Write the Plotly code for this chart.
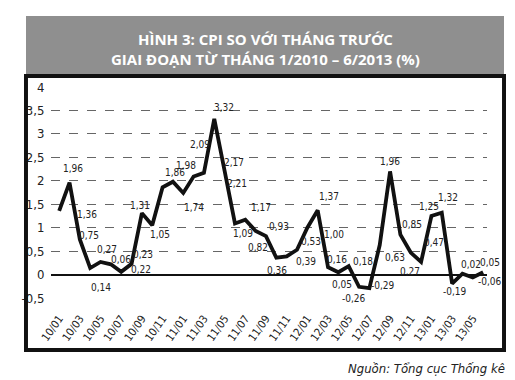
import plotly.graph_objects as go

# ---- data ----
months = ["10/01","10/02","10/03","10/04","10/05","10/06","10/07","10/08","10/09","10/10","10/11","10/12",
          "11/01","11/02","11/03","11/04","11/05","11/06","11/07","11/08","11/09","11/10","11/11","11/12",
          "12/01","12/02","12/03","12/04","12/05","12/06","12/07","12/08","12/09","12/10","12/11","12/12",
          "13/01","13/02","13/03","13/04","13/05","13/06"]
cpi = [1.36, 1.96, 0.75, 0.14, 0.27, 0.22, 0.06, 0.23, 1.31, 1.05, 1.86, 1.98,
       1.74, 2.09, 2.17, 3.32, 2.21, 1.09, 1.17, 0.93, 0.82, 0.36, 0.39, 0.53,
       1.00, 1.37, 0.16, 0.05, 0.18, -0.26, -0.29, 0.63, 2.20, 0.85, 0.47, 0.27,
       1.25, 1.32, -0.19, 0.02, -0.06, 0.05]
# label texts as printed in the original figure
point_labels = ["1,36","1,96","0,75","0,14","0,27","0,22","0,06","0,23","1,31","1,05","1,86","1,98",
                "1,74","2,09","2,17","3,32","2,21","1,09","1,17","0,93","0,82","0,36","0,39","0,53",
                "1,00","1,37","0,16","0,05","0,18","-0,26","-0,29","0,63","1,96","0,85","0,47","0,27",
                "1,25","1,32","-0,19","0,02","-0,06","0,05"]
# label offsets in pixels (dx right, dy down) — styling only
label_dx = [28, 3, 9, 11, 6, 30, 0, 11, -2, 8, 12, 13,
            11, 6, 30, 10, 12, 8, 16, 23, -8, 1, 19, 14,
            27, 11, 9, 4, 14, -5, 14, 15, 0, 12, 23, -11,
            -2, 6, 3, 9, 17, 7]
label_dy = [4, -14, -4, 19, -12, 5, -12, -9, -8, 9, -15, -16,
            15, -32, -10, -11, 13, 10, -12, -4, 11, 13, 5, -8,
            7, -14, -8, 12, -5, 12, -3, 12, -10, -10, -10, 10,
            -9, -15, 8, -9, 4, -10]
tick_idx = list(range(0, 42, 2))
tick_text = [months[i] for i in tick_idx]
y_ticks = [-0.5, 0, 0.5, 1, 1.5, 2, 2.5, 3, 3.5, 4]
y_tick_text = ["-0,5", "0", "0,5", "1", "1,5", "2", "2,5", "3", "3,5", "4"]

title_text = "HÌNH 3: CPI SO VỚI THÁNG TRƯỚC<br>GIAI ĐOẠN TỪ THÁNG 1/2010 – 6/2013 (%)"
source_text = "Nguồn: Tổng cục Thống kê"

NARROW = "Liberation Sans Narrow, DejaVu Sans Condensed, Roboto, sans-serif"

# page body has an 8px margin: the figure is drawn 8px in from the window corner
OFF = 8
W, H = 515 - OFF, 380 - OFF
# paper area = the framed box (window px 14..504 x 76..350)
BX0, BX1, BY0, BY1 = 14, 504, 76, 350
ML, MR, MT, MB = BX0 - OFF, W - (BX1 - OFF), BY0 - OFF, H - (BY1 - OFF)

def px(x):  # window pixel -> paper
    return (x - BX0) / (BX1 - BX0)

def py(y):
    return (BY1 - y) / (BY1 - BY0)

x_idx = list(range(len(months)))

fig = go.Figure()
fig.add_trace(go.Scatter(x=x_idx, y=cpi, mode="lines",
                         line=dict(color="#111111", width=3.8),
                         hoverinfo="skip", showlegend=False))
# empty trace that carries the frame axes
fig.add_trace(go.Scatter(x=[], y=[], xaxis="x2", yaxis="y2", mode="lines",
                         hoverinfo="skip", showlegend=False))

for i, (v, t) in enumerate(zip(cpi, point_labels)):
    fig.add_annotation(x=i, y=v, text=t, showarrow=False,
                       xshift=label_dx[i], yshift=-label_dy[i],
                       font=dict(family=NARROW, size=10, color="#222222"))

# banner
fig.add_shape(type="rect", xref="paper", yref="paper",
              x0=px(14), x1=px(504), y0=py(74), y1=py(16),
              fillcolor="#8f8f8f", line=dict(width=0), layer="below")
# frame
fig.add_shape(type="rect", xref="paper", yref="paper",
              x0=px(15), x1=px(503), y0=py(349), y1=py(77),
              line=dict(color="#111111", width=2), layer="above")

fig.add_annotation(xref="paper", yref="paper", x=px(260), y=py(49),
                   text="<b>" + title_text + "</b>", showarrow=False,
                   font=dict(family="Open Sans", size=15, color="white"),
                   xanchor="center", yanchor="middle", align="center")
fig.add_annotation(xref="paper", yref="paper", x=px(507), y=py(368),
                   text="<i>" + source_text + "</i>", showarrow=False,
                   font=dict(family=NARROW, size=13, color="#222222"),
                   xanchor="right", yanchor="middle")

fig.update_layout(
    xaxis=dict(domain=[px(40), px(487)], range=[-0.755, 41.415],
               tickvals=tick_idx, ticktext=tick_text, tickangle=-55,
               showgrid=False, zeroline=False, showline=False, ticks="",
               ticklabelstandoff=10, anchor="y",
               tickfont=dict(family=NARROW, size=11, color="#222222")),
    yaxis=dict(domain=[py(299), py(86)], range=[-0.52, 4.02],
               tickvals=y_ticks, ticktext=y_tick_text,
               showgrid=True, gridcolor="#666666", griddash="dash", gridwidth=1,
               zeroline=True, zerolinecolor="#111111", zerolinewidth=1.5,
               showline=False, ticks="", ticklabelstandoff=6, anchor="x",
               tickfont=dict(family=NARROW, size=13, color="#222222")),
    xaxis2=dict(domain=[0, 1], range=[0, 1], anchor="y2", showline=True, mirror=True,
                linecolor="#111111", linewidth=1.5, showgrid=False, zeroline=False,
                showticklabels=False, ticks=""),
    yaxis2=dict(domain=[0, 1], range=[0, 1], anchor="x2", showline=True, mirror=True,
                linecolor="#111111", linewidth=1.5, showgrid=False, zeroline=False,
                showticklabels=False, ticks=""),
    width=W, height=H, margin=dict(l=ML, r=MR, t=MT, b=MB),
    paper_bgcolor="white", plot_bgcolor="rgba(255,255,255,0)",
)
fig.write_html("out.html")
